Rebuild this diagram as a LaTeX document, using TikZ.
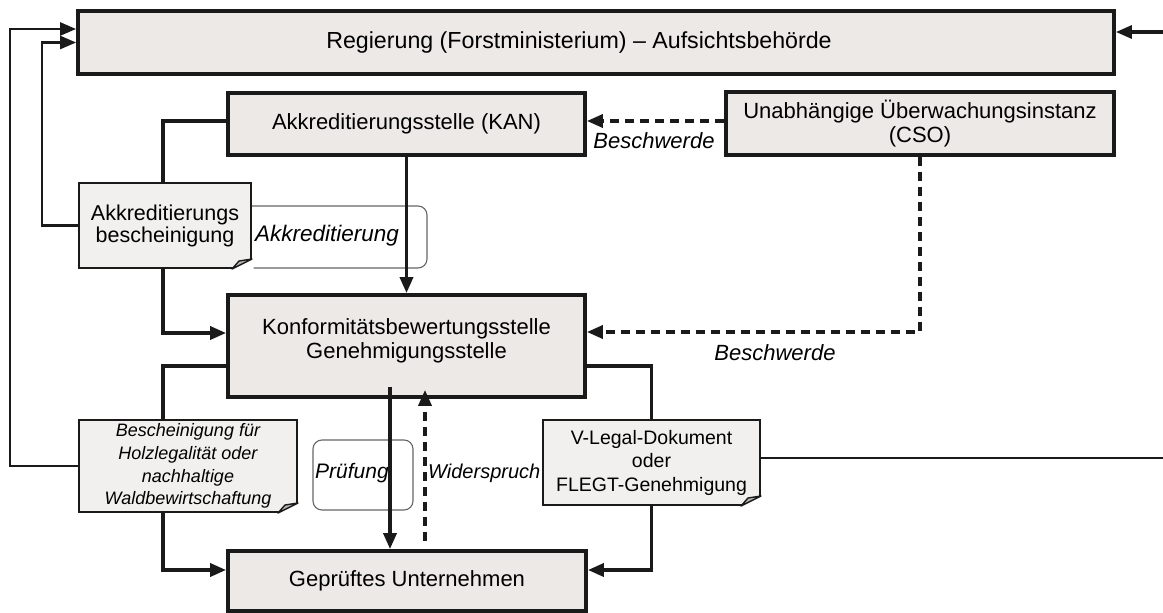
\documentclass[tikz,border=0pt]{standalone}
\usepackage{fontspec}
\setmainfont{Liberation Sans}
\usepackage{tikz}
\usetikzlibrary{arrows.meta}

\definecolor{boxgray}{HTML}{ECE9E7}
\definecolor{docgray}{HTML}{F2F0EF}
\definecolor{foldgray}{HTML}{B8B4B2}
\definecolor{inkline}{HTML}{1A1A1A}

\newcommand{\eselsohr}[1]{%
\fill[white] ([xshift=-20pt,yshift=-1.5pt]#1.south east) -- ([xshift=1.5pt,yshift=-1.5pt]#1.south east) -- ([xshift=1.5pt,yshift=10pt]#1.south east) -- ([yshift=10pt]#1.south east) -- ([xshift=-20pt]#1.south east) -- cycle;
\draw[inkline, line width=1.4pt, fill=foldgray, line join=round] ([xshift=-20pt]#1.south east) -- ([yshift=10pt]#1.south east) -- ([xshift=-13pt,yshift=8pt]#1.south east) -- cycle;
}

\begin{document}
\begin{tikzpicture}[x=1pt,y=-1pt,
  behoerde/.style={draw=inkline, line width=3.8pt, fill=boxgray, inner sep=0pt, align=center, font=\fontsize{22}{24}\selectfont},
  nachweis/.style={draw=inkline, line width=2pt, fill=docgray, inner sep=0pt, align=center},
  rahmen/.style={draw=gray!80!black, line width=1.1pt, rounded corners=9pt},
  kursiv/.style={inner sep=0pt, font=\fontsize{22}{24}\selectfont\itshape},
  fluss/.style={draw=inkline, line width=3.5pt, -{Triangle[length=16pt,width=13pt]}},
  beschw/.style={fluss, dash pattern=on 9pt off 6pt},
  rueck/.style={draw=inkline, line width=2.6pt, -{Triangle[length=16pt,width=13pt]}}]
\useasboundingbox (0,0) rectangle (1163,613);

\node[behoerde, minimum width=1036pt, minimum height=63pt, font=\fontsize{23.2}{24}\selectfont] (regierung) at (596,42.5) {Regierung (Forstministerium) – Aufsichtsbehörde\hspace*{34pt}};
\node[behoerde, minimum width=357pt, minimum height=62pt] (kan) at (406.5,124) {Akkreditierungsstelle (KAN)};
\node[behoerde, minimum width=388pt, minimum height=63pt] (cso) at (920,123.5) {Unabhängige Überwachungsinstanz\\(CSO)};
\node[rahmen, minimum width=227pt, minimum height=62pt] (akkrahmen) at (313.5,237) {};
\node[kursiv, font=\fontsize{22.5}{24}\selectfont\itshape] (akkreditierung) at (327,236) {Akkreditierung};
\node[nachweis, minimum width=172pt, minimum height=85pt, font=\fontsize{21.5}{22}\selectfont] (akkdoc) at (165,225.5) {Akkreditierungs\\bescheinigung};
\eselsohr{akkdoc}
\node[behoerde, minimum width=357pt, minimum height=102pt] (konf) at (406.5,346) {Konformitätsbewertungsstelle\\Genehmigungsstelle\rule[-14pt]{0pt}{0pt}};
\node[nachweis, minimum width=218pt, minimum height=92pt, font=\fontsize{18}{22.7}\selectfont\itshape] (holzdoc) at (188,466) {Bescheinigung für\\Holzlegalität oder\\nachhaltige\\Waldbewirtschaftung};
\eselsohr{holzdoc}
\node[rahmen, minimum width=100pt, minimum height=70pt] (pruefrahmen) at (363,475) {};
\node[kursiv, anchor=west, font=\fontsize{21}{24}\selectfont\itshape] (pruefung) at (315,473) {Prüfung};
\node[kursiv, anchor=west, font=\fontsize{20}{24}\selectfont\itshape] (widerspruch) at (428,473) {Widerspruch};
\node[nachweis, minimum width=217pt, minimum height=85pt, font=\fontsize{19.5}{23.5}\selectfont] (vlegal) at (651.5,462.5) {V-Legal-Dokument\\oder\\FLEGT-Genehmigung};
\eselsohr{vlegal}
\node[behoerde, minimum width=358pt, minimum height=60pt] (unternehmen) at (407,581) {Geprüftes Unternehmen};
\node[kursiv] (beschwerdeoben) at (654,141) {Beschwerde};
\node[kursiv] (beschwerdeunten) at (775,353) {Beschwerde};
\coordinate (rechtsoben) at (1163,32);
\coordinate (rechtsmitte) at (1163,458);

\draw[rueck] (holzdoc.west) -- ++(-68,0) |- ([yshift=13.5pt]regierung.west);
\draw[rueck] (akkdoc.west) -- ++(-36,0) |- (regierung.west);
\draw[rueck, line width=3.2pt] (rechtsoben) -- (regierung.east |- rechtsoben);
\draw[fluss, -] ([yshift=3pt]kan.west) -| ([xshift=-2pt]akkdoc.north);
\draw[fluss] ([xshift=-2pt]akkdoc.south) |- ([yshift=13pt]konf.west);
\draw[fluss] (kan) -- (konf);
\draw[fluss, -] ([yshift=-20pt]konf.west) -| ([xshift=-25pt]holzdoc.north);
\draw[fluss] ([xshift=-25pt]holzdoc.south) |- ([yshift=11pt]unternehmen.west);
\draw[fluss, -] ([yshift=-20pt]konf.east) -| (vlegal.north);
\draw[fluss] (vlegal.south) |- ([yshift=11pt]unternehmen.east);
\draw[inkline, line width=2.2pt] (vlegal.east |- rechtsmitte) -- (rechtsmitte);
\draw[fluss] ([xshift=-16.5pt,yshift=12pt]konf.south) -- ([xshift=-17pt]unternehmen.north);
\draw[beschw] ([xshift=18pt,yshift=8pt]unternehmen.north) -- ([xshift=18.5pt,yshift=9pt]konf.south);
\draw[beschw] ([yshift=2.5pt]cso.west) -- ([yshift=3pt]kan.east);
\draw[beschw] (cso.south) |- ([yshift=14pt]konf.east);
\end{tikzpicture}
\end{document}
